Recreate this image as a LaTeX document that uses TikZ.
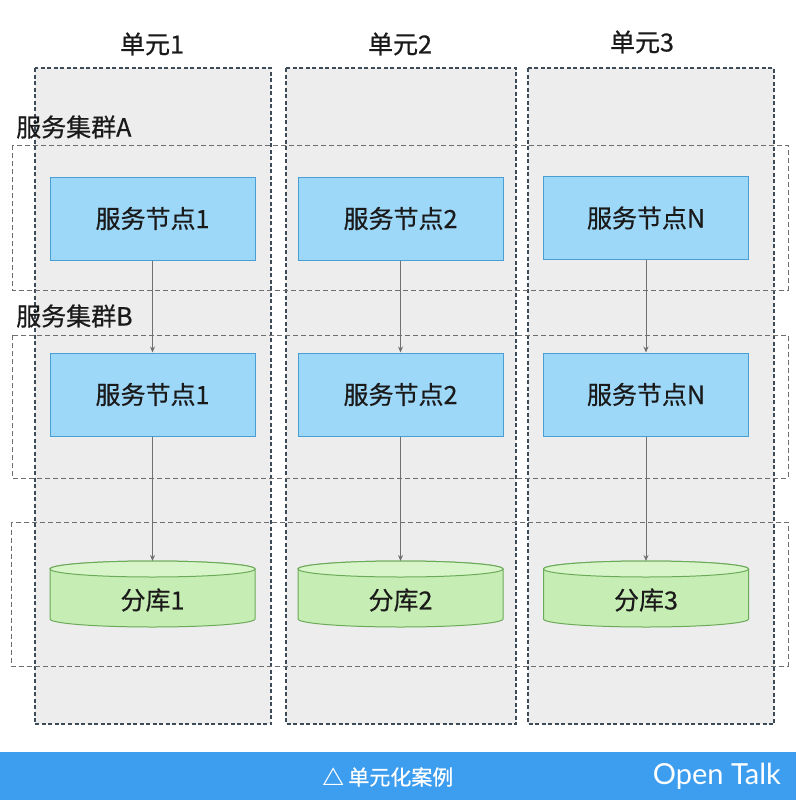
\documentclass[tikz,border=0pt]{standalone}
\usepackage{fontspec}
\setmainfont[FakeBold=0.6]{Noto Sans CJK SC}
\newfontfamily\latinfont{Lato}
\usetikzlibrary{arrows.meta}
\definecolor{unitbg}{HTML}{EDEDED}
\definecolor{unitdash}{HTML}{3E4C5A}
\definecolor{clusterdash}{HTML}{6E6E6E}
\definecolor{nodefill}{HTML}{9ED8F9}
\definecolor{nodeedge}{HTML}{4A9ED6}
\definecolor{dbfill}{HTML}{C6EEB4}
\definecolor{dbtop}{HTML}{D8F5CA}
\definecolor{dbedge}{HTML}{6BAA58}
\definecolor{barblue}{HTML}{3D9EF0}
\definecolor{arrowgray}{HTML}{707070}
\definecolor{ink}{HTML}{1A1A1A}
\tikzset{
  unitbox/.style={fill=unitbg, draw=unitdash, line width=1.1pt, dash pattern=on 4pt off 2.5pt},
  clusterbox/.style={draw=clusterdash, line width=1pt, dash pattern=on 5pt off 3pt},
  svc/.style={draw=nodeedge, fill=nodefill, line width=1pt, minimum width=205pt, minimum height=83pt, font=\fontsize{25}{28}\selectfont, text=ink, inner sep=0pt},
  dbtext/.style={font=\fontsize{25}{28}\selectfont, text=ink, inner sep=0pt},
  title/.style={font=\fontsize{25}{28}\selectfont, text=ink, inner sep=0pt},
  clabel/.style={font=\fontsize{25}{28}\selectfont, text=ink, inner sep=0pt, anchor=west},
  conn/.style={draw=arrowgray, line width=0.9pt, -{Stealth[length=6pt,width=5pt]}},
  dbshape/.style={fill=dbfill, draw=dbedge, line width=1pt}
}
\begin{document}
\begin{tikzpicture}[x=1pt,y=1pt]
\useasboundingbox (0,0) rectangle (796,-800);
\fill[white] (0,0) rectangle (796,-800);
% units
\draw[unitbox] (35,-68) rectangle (271,-724);
\draw[unitbox] (286,-68) rectangle (516,-724);
\draw[unitbox] (528,-68) rectangle (774,-724);
\node[title] (u1) at (152,-44) {单元1};
\node[title] (u2) at (400,-44) {单元2};
\node[title] (u3) at (642,-42) {单元3};
% clusters
\draw[clusterbox] (12,-145) rectangle (788,-290);
\draw[clusterbox] (12,-335) rectangle (788,-478);
\draw[clusterbox] (11,-522) rectangle (788,-666);
\node[clabel] (ca) at (16,-127) {服务集群A};
\node[clabel] (cb) at (16,-316) {服务集群B};
% service nodes
\node[svc] (a1) at (152.5,-218.5) {服务节点1};
\node[svc] (a2) at (400.5,-218.5) {服务节点2};
\node[svc] (a3) at (646,-218) {服务节点N};
\node[svc] (b1) at (152.5,-394.5) {服务节点1};
\node[svc] (b2) at (400.5,-394.5) {服务节点2};
\node[svc] (b3) at (646,-394.5) {服务节点N};
% databases
\foreach \cx/\nm/\lbl in {152.5/d1/分库1, 400.5/d2/分库2, 646/d3/分库3}{
  \path[dbshape] (\cx-102.5,-569) -- (\cx-102.5,-619)
     arc[start angle=180,end angle=360,x radius=102.5,y radius=8]
     -- (\cx+102.5,-569)
     arc[start angle=0,end angle=180,x radius=102.5,y radius=8] -- cycle;
  \path[fill=dbtop, draw=dbedge, line width=1pt] (\cx,-569) ellipse[x radius=102.5, y radius=8];
  \coordinate (\nm top) at (\cx,-561);
  \node[dbtext] (\nm) at (\cx,-600) {\lbl};
}
% connectors
\draw[conn] (a1.south) -- (b1.north);
\draw[conn] (a2.south) -- (b2.north);
\draw[conn] (a3.south) -- (b3.north);
\draw[conn] (b1.south) -- (d1top);
\draw[conn] (b2.south) -- (d2top);
\draw[conn] (b3.south) -- (d3top);
% bottom bar
\fill[barblue] (0,-752) rectangle (796,-800);
\node[text=white, font=\fontsize{21}{24}\selectfont, inner sep=0pt] (cap) at (388,-777) {△ 单元化案例};
\node[text=white, font=\latinfont\fontsize{29}{32}\selectfont, inner sep=0pt, anchor=east] (ot) at (781,-776) {Open Talk};
\end{tikzpicture}
\end{document}
